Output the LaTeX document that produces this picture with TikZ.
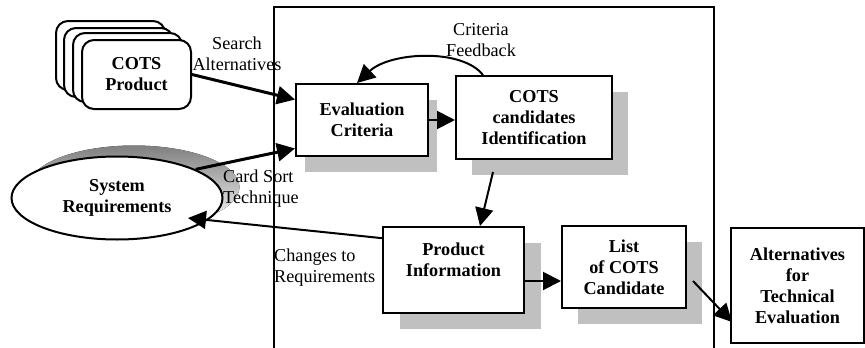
\documentclass[tikz,border=0pt]{standalone}
\usepackage{fontspec}
\setmainfont{Liberation Serif}
\usetikzlibrary{arrows.meta,shapes.geometric,shadows}
\definecolor{shade}{RGB}{192,192,192}
\newcommand{\diagsize}{\fontsize{18.2pt}{21pt}\selectfont}
\tikzset{>={Triangle[length=18pt,width=18pt]}}
\tikzset{
	box/.style={draw,line width=2pt,fill=white,inner sep=0pt,font=\diagsize\bfseries,align=center},
	proc/.style={box,general shadow={fill=shade,shadow xshift=#1,shadow yshift=-16pt}},
	proc/.default=16pt,
	card/.style={box,rounded corners=12pt,minimum width=109pt,minimum height=69pt},
	flow/.style={->,line width=2pt},
	heavy/.style={->,line width=3pt},
	note/.style={inner sep=0pt,align=center,font=\diagsize}
}

\begin{document}
\begin{tikzpicture}[x=1pt,y=-1pt]
	\useasboundingbox (0,0) rectangle (865,348);
	\draw[line width=2pt] (274,348) |- (714,7) -- (714,348);

	% stacked COTS product cards
	\foreach \x/\y/\i in {110.5/55.5/1,118.5/62.5/2,127.5/67.5/3}
		\node[card] (card\i) at (\x,\y) {};
	\node[card] (cots) at (136.5,74.5) {COTS\\Product};

	\fill[shade] (134,187) ellipse [x radius=105.5,y radius=41.5];
	\node[box,ellipse,minimum width=211pt,minimum height=83pt] (sysreq) at (117,198) {System\\Requirements};

	\node[proc=9pt,minimum width=132pt,minimum height=72pt] (ev) at (362,120) {Evaluation\\Criteria};
	\node[proc,minimum width=156pt,minimum height=83pt] (ci) at (534,117.5) {COTS\\candidates\\Identification};
	\node[proc=17pt,minimum width=141pt,minimum height=86pt] (pi) at (453.5,270) {Product\\Information\\~};
	\node[proc,minimum width=124pt,minimum height=82pt] (lc) at (624,267) {List\\of COTS\\Candidate};
	\node[box,minimum width=133pt,minimum height=115pt] (alt) at (797.5,285.5) {Alternatives\\for\\Technical\\Evaluation};

	\node[note] (search) at (237,54) {Search\\Alternatives};
	\node[note,align=left,anchor=west] (cardsort) at (223,188.5) {Card Sort\\Technique};
	\node[note] (feedback) at (481,40.5) {Criteria\\Feedback};
	\node[note,align=left,anchor=west] (changes) at (274,267.5) {Changes to\\Requirements};

	\draw[heavy] (cots.east) -- (ev.163);
	\draw[heavy] (sysreq.20) -- (ev.203);
	\draw[flow] (ev.east) -- (ev.east -| ci.west);
	\draw[flow] ([xshift=-51pt]ci.north) .. controls (462,48) and (390,52) .. ([xshift=-5pt]ev.north);
	\draw[flow] ([shift={(-41,12)}]ci.south) -- ([xshift=26.5pt]pi.north);
	\draw[flow] ([yshift=-11pt]pi.east) -- ([yshift=-14pt]lc.west);
	\draw[flow] ([shift={(6,14)}]lc.east) -- ([shift={(2,36.5)}]alt.west);
	\draw[flow] (pi.156) -- ([shift={(71,20)}]sysreq.center);
\end{tikzpicture}
\end{document}
